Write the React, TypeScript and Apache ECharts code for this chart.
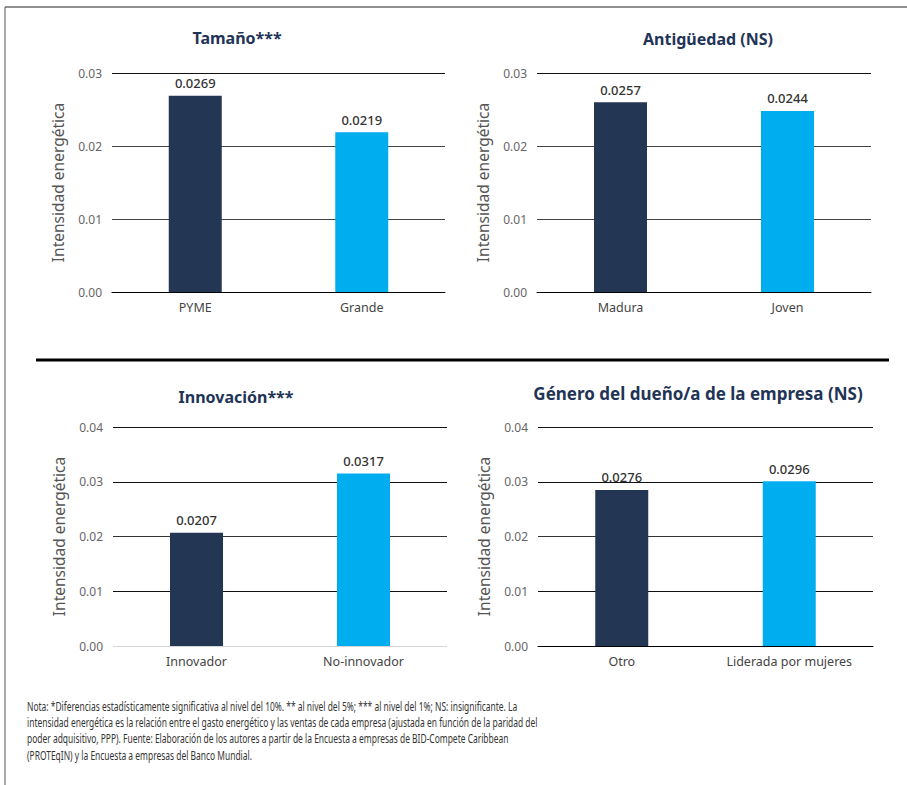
import React, { useEffect, useRef } from "react";
import * as echarts from "echarts";

// ---- data ----
const sizeTitle = "Tamaño***";
const sizeCategories = ["PYME", "Grande"];
const sizeValues = [0.0269, 0.0219];
const sizeLabels = ["0.0269", "0.0219"];

const ageTitle = "Antigüedad (NS)";
const ageCategories = ["Madura", "Joven"];
const ageValues = [0.026, 0.0248];
const ageLabels = ["0.0257", "0.0244"];

const innovationTitle = "Innovación***";
const innovationCategories = ["Innovador", "No-innovador"];
const innovationValues = [0.0207, 0.0315];
const innovationLabels = ["0.0207", "0.0317"];

const genderTitle = "Género del dueño/a de la empresa (NS)";
const genderCategories = ["Otro", "Liderada por mujeres"];
const genderValues = [0.0285, 0.0301];
const genderLabels = ["0.0276", "0.0296"];

const topAxisMax = 0.03;
const bottomAxisMax = 0.04;
const axisInterval = 0.01;
const yAxisName = "Intensidad energética";

const footnoteLines = [
  "Nota: *Diferencias estadísticamente significativa al nivel del 10%. ** al nivel del 5%; *** al nivel del 1%; NS: insignificante. La",
  "intensidad energética es la relación entre el gasto energético y las ventas de cada empresa (ajustada en función de la paridad del",
  "poder adquisitivo, PPP). Fuente: Elaboración de los autores a partir de la Encuesta a empresas de BID-Compete Caribbean",
  "(PROTEqIN) y la Encuesta a empresas del Banco Mundial.",
];

// ---- styles ----
const NAVY = "#233654";
const BLUE = "#00AEEF";
const FONT = "'Noto Sans', sans-serif";
const barColors = [NAVY, BLUE];

type Panel = {
  title: string;
  titleX: number;
  titleY: number;
  cats: string[];
  values: number[];
  labels: string[];
  max: number;
  grid: { left: number; top: number; width: number; height: number };
  splitColors: string[];
  showAxisLine: boolean;
};

const panels: Panel[] = [
  {
    title: sizeTitle, titleX: 237, titleY: 30,
    cats: sizeCategories, values: sizeValues, labels: sizeLabels, max: topAxisMax,
    grid: { left: 112, top: 73, width: 333, height: 219 },
    splitColors: ["#111", "#444", "#444", "#111"], showAxisLine: true,
  },
  {
    title: ageTitle, titleX: 708, titleY: 31,
    cats: ageCategories, values: ageValues, labels: ageLabels, max: topAxisMax,
    grid: { left: 537, top: 73, width: 334, height: 219 },
    splitColors: ["#111", "#444", "#444", "#111"], showAxisLine: true,
  },
  {
    title: innovationTitle, titleX: 236, titleY: 389,
    cats: innovationCategories, values: innovationValues, labels: innovationLabels, max: bottomAxisMax,
    grid: { left: 113, top: 427, width: 334, height: 219 },
    splitColors: ["#d4d4d4", "#111", "#333", "#111", "#111"], showAxisLine: false,
  },
  {
    title: genderTitle, titleX: 698, titleY: 385,
    cats: genderCategories, values: genderValues, labels: genderLabels, max: bottomAxisMax,
    grid: { left: 538, top: 427, width: 335, height: 219 },
    splitColors: ["#111", "#111", "#333", "#111", "#111"], showAxisLine: true,
  },
];

export default function App() {
  const ref = useRef<HTMLDivElement>(null);

  useEffect(() => {
    if (!ref.current) return;
    const chart = echarts.init(ref.current, undefined, { renderer: "svg" });

    const option: any = {
      animation: false,
      backgroundColor: "#ffffff",
      title: panels.map((p, i) => ({
        text: p.title,
        left: p.titleX,
        top: p.titleY,
        padding: 0,
        textAlign: "center",
        textStyle: {
          fontFamily: FONT,
          fontSize: i === 3 ? 17 : 16,
          fontWeight: "bold",
          color: "#1F3456",
        },
      })),
      grid: panels.map((p) => ({ ...p.grid, containLabel: false })),
      xAxis: panels.map((p, i) => ({
        type: "category",
        gridIndex: i,
        data: p.cats,
        axisTick: { show: false },
        axisLine: { show: p.showAxisLine, lineStyle: { color: "#000", width: 1 } },
        axisLabel: { fontFamily: FONT, fontSize: 12.5, color: "#444", margin: 9 },
      })),
      yAxis: panels.map((p, i) => ({
        type: "value",
        gridIndex: i,
        min: 0,
        max: p.max,
        interval: axisInterval,
        name: yAxisName,
        nameLocation: "middle",
        nameRotate: 90,
        nameGap: 46,
        nameTextStyle: { fontFamily: FONT, fontSize: 15.5, color: "#555" },
        axisLine: { show: false },
        axisTick: { show: false },
        axisLabel: {
          fontFamily: FONT, fontSize: 12, color: "#666", margin: 10,
          formatter: (v: number) => v.toFixed(2),
        },
        splitLine: { show: true, lineStyle: { color: p.splitColors, width: 1 } },
      })),
      series: panels.map((p, i) => ({
        type: "bar",
        xAxisIndex: i,
        yAxisIndex: i,
        barWidth: 53,
        data: p.values.map((v, j) => ({ value: v, itemStyle: { color: barColors[j] } })),
        label: {
          show: true,
          position: "top",
          distance: 6,
          fontFamily: FONT,
          fontSize: 13,
          fontWeight: 500,
          color: "#333",
          formatter: (params: any) => p.labels[params.dataIndex],
        },
      })),
      graphic: [
        { type: "line", shape: { x1: 5, y1: 7, x2: 907, y2: 7 }, style: { stroke: "#222", lineWidth: 1 } },
        { type: "line", shape: { x1: 5, y1: 7, x2: 5, y2: 785 }, style: { stroke: "#555", lineWidth: 1 } },
        { type: "line", shape: { x1: 36, y1: 360, x2: 889, y2: 360 }, style: { stroke: "#000", lineWidth: 3 } },
        {
          type: "text",
          x: 27,
          y: 698,
          scaleX: 0.676,
          style: {
            text: footnoteLines.join("\n"),
            fontFamily: "'Noto Sans', sans-serif",
            fontSize: 12.5,
            lineHeight: 16.3,
            fill: "#333",
          },
        },
      ],
    };

    chart.setOption(option);
    return () => chart.dispose();
  }, []);

  return (
    <div
      ref={ref}
      style={{ position: "absolute", left: 0, top: 0, width: 907, height: 785, background: "#fff" }}
    />
  );
}
